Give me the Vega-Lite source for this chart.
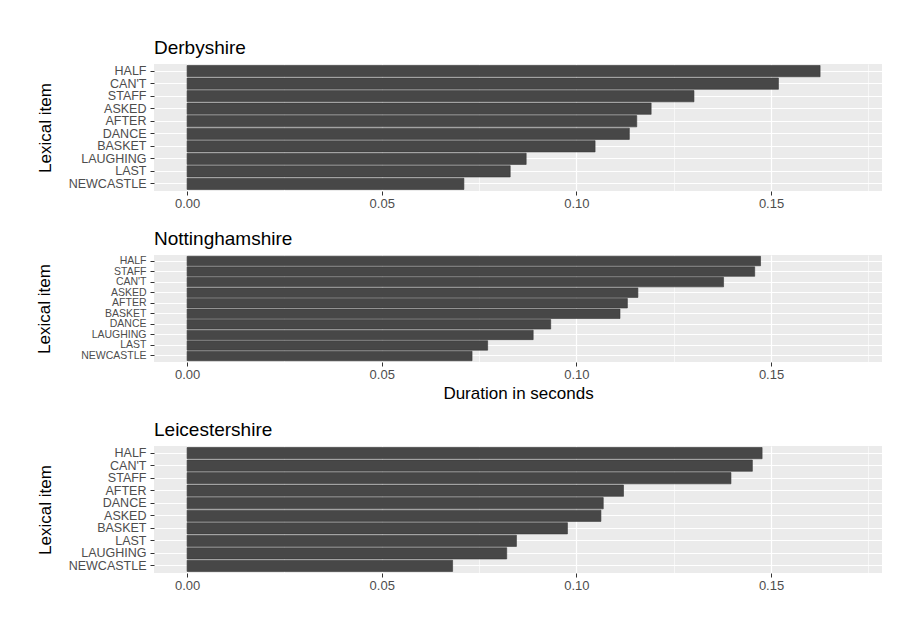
{
  "$schema": "https://vega.github.io/schema/vega-lite/v6.json",
  "background": "white",
  "padding": {"left": 35, "top": 39, "right": 10, "bottom": 10},
  "config": {
    "font": "Liberation Sans",
    "view": {"fill": "#EBEBEB", "stroke": null},
    "title": {"fontSize": 19, "fontWeight": "normal", "color": "#000000", "anchor": "start", "offset": 6, "frame": "group"},
    "axis": {"labelFont": "Liberation Sans", "titleFont": "Liberation Sans", "labelFontSize": 13, "labelColor": "#4D4D4D", "titleFontSize": 17, "titleFontWeight": "normal", "titleColor": "#000000", "tickColor": "#333333", "tickSize": 4, "domain": false, "gridColor": "#FFFFFF"}
  },
  "data": {"values": [
    {"county": "Derbyshire", "item": "HALF", "duration": 0.1626},
    {"county": "Derbyshire", "item": "CAN'T", "duration": 0.1519},
    {"county": "Derbyshire", "item": "STAFF", "duration": 0.1302},
    {"county": "Derbyshire", "item": "ASKED", "duration": 0.1192},
    {"county": "Derbyshire", "item": "AFTER", "duration": 0.1155},
    {"county": "Derbyshire", "item": "DANCE", "duration": 0.1136},
    {"county": "Derbyshire", "item": "BASKET", "duration": 0.1048},
    {"county": "Derbyshire", "item": "LAUGHING", "duration": 0.0871},
    {"county": "Derbyshire", "item": "LAST", "duration": 0.0830},
    {"county": "Derbyshire", "item": "NEWCASTLE", "duration": 0.0711},
    {"county": "Nottinghamshire", "item": "HALF", "duration": 0.1473},
    {"county": "Nottinghamshire", "item": "STAFF", "duration": 0.1458},
    {"county": "Nottinghamshire", "item": "CAN'T", "duration": 0.1378},
    {"county": "Nottinghamshire", "item": "ASKED", "duration": 0.1158},
    {"county": "Nottinghamshire", "item": "AFTER", "duration": 0.1131},
    {"county": "Nottinghamshire", "item": "BASKET", "duration": 0.1112},
    {"county": "Nottinghamshire", "item": "DANCE", "duration": 0.0934},
    {"county": "Nottinghamshire", "item": "LAUGHING", "duration": 0.0889},
    {"county": "Nottinghamshire", "item": "LAST", "duration": 0.0772},
    {"county": "Nottinghamshire", "item": "NEWCASTLE", "duration": 0.0732},
    {"county": "Leicestershire", "item": "HALF", "duration": 0.1477},
    {"county": "Leicestershire", "item": "CAN'T", "duration": 0.1452},
    {"county": "Leicestershire", "item": "STAFF", "duration": 0.1397},
    {"county": "Leicestershire", "item": "AFTER", "duration": 0.1121},
    {"county": "Leicestershire", "item": "DANCE", "duration": 0.1069},
    {"county": "Leicestershire", "item": "ASKED", "duration": 0.1063},
    {"county": "Leicestershire", "item": "BASKET", "duration": 0.0977},
    {"county": "Leicestershire", "item": "LAST", "duration": 0.0846},
    {"county": "Leicestershire", "item": "LAUGHING", "duration": 0.0821},
    {"county": "Leicestershire", "item": "NEWCASTLE", "duration": 0.0682}
  ]},
  "spacing": 20,
  "resolve": {"scale": {"y": "independent"}},
  "vconcat": [
    {
      "title": "Derbyshire",
      "width": 728, "height": 127,
      "transform": [{"filter": "datum.county === 'Derbyshire'"}],
      "layer": [
        {
          "mark": {"type": "bar", "opacity": 0},
          "encoding": {
            "y": {"field": "item", "type": "nominal", "sort": null, "scale": {"paddingInner": 0.1, "paddingOuter": 0.12}, "axis": {"title": "Lexical item", "grid": true, "gridWidth": 1.1, "labelFontSize": 12.5, "labelPadding": 4, "titlePadding": 14}},
            "x": {"field": "duration", "type": "quantitative", "scale": {"domain": [-0.0085, 0.1785], "nice": false, "zero": false}, "axis": {"orient": "bottom", "values": [0.025, 0.075, 0.125, 0.175], "grid": true, "gridWidth": 0.6, "labels": false, "ticks": false, "title": null}}
          }
        },
        {
          "mark": {"type": "bar", "fill": "#474747", "stroke": "#383838", "strokeWidth": 0.6},
          "encoding": {
            "y": {"field": "item", "type": "nominal", "sort": null, "axis": {"title": "Lexical item", "grid": true, "gridWidth": 1.1, "labelFontSize": 12.5, "labelPadding": 4, "titlePadding": 14}},
            "x": {"field": "duration", "type": "quantitative", "axis": {"orient": "bottom", "values": [0, 0.05, 0.1, 0.15], "format": ".2f", "grid": true, "gridWidth": 1.2, "title": null, "labelPadding": 2}}
          }
        }
      ],
      "resolve": {"axis": {"x": "independent"}}
    },
    {
      "title": "Nottinghamshire",
      "width": 728, "height": 107,
      "transform": [{"filter": "datum.county === 'Nottinghamshire'"}],
      "layer": [
        {
          "mark": {"type": "bar", "opacity": 0},
          "encoding": {
            "y": {"field": "item", "type": "nominal", "sort": null, "scale": {"paddingInner": 0.1, "paddingOuter": 0.12}, "axis": {"title": "Lexical item", "grid": true, "gridWidth": 1.1, "labelFontSize": 10.5, "labelPadding": 4, "titlePadding": 27}},
            "x": {"field": "duration", "type": "quantitative", "scale": {"domain": [-0.0085, 0.1785], "nice": false, "zero": false}, "axis": {"orient": "bottom", "values": [0.025, 0.075, 0.125, 0.175], "grid": true, "gridWidth": 0.6, "labels": false, "ticks": false, "title": null}}
          }
        },
        {
          "mark": {"type": "bar", "fill": "#474747", "stroke": "#383838", "strokeWidth": 0.6},
          "encoding": {
            "y": {"field": "item", "type": "nominal", "sort": null, "axis": {"title": "Lexical item", "grid": true, "gridWidth": 1.1, "labelFontSize": 10.5, "labelPadding": 4, "titlePadding": 27}},
            "x": {"field": "duration", "type": "quantitative", "axis": {"orient": "bottom", "values": [0, 0.05, 0.1, 0.15], "format": ".2f", "grid": true, "gridWidth": 1.2, "title": "Duration in seconds", "labelPadding": 2, "titlePadding": 4}}
          }
        }
      ],
      "resolve": {"axis": {"x": "independent"}}
    },
    {
      "title": "Leicestershire",
      "width": 728, "height": 127,
      "transform": [{"filter": "datum.county === 'Leicestershire'"}],
      "layer": [
        {
          "mark": {"type": "bar", "opacity": 0},
          "encoding": {
            "y": {"field": "item", "type": "nominal", "sort": null, "scale": {"paddingInner": 0.1, "paddingOuter": 0.12}, "axis": {"title": "Lexical item", "grid": true, "gridWidth": 1.1, "labelFontSize": 12.5, "labelPadding": 4, "titlePadding": 14}},
            "x": {"field": "duration", "type": "quantitative", "scale": {"domain": [-0.0085, 0.1785], "nice": false, "zero": false}, "axis": {"orient": "bottom", "values": [0.025, 0.075, 0.125, 0.175], "grid": true, "gridWidth": 0.6, "labels": false, "ticks": false, "title": null}}
          }
        },
        {
          "mark": {"type": "bar", "fill": "#474747", "stroke": "#383838", "strokeWidth": 0.6},
          "encoding": {
            "y": {"field": "item", "type": "nominal", "sort": null, "axis": {"title": "Lexical item", "grid": true, "gridWidth": 1.1, "labelFontSize": 12.5, "labelPadding": 4, "titlePadding": 14}},
            "x": {"field": "duration", "type": "quantitative", "axis": {"orient": "bottom", "values": [0, 0.05, 0.1, 0.15], "format": ".2f", "grid": true, "gridWidth": 1.2, "title": null, "labelPadding": 2}}
          }
        }
      ],
      "resolve": {"axis": {"x": "independent"}}
    }
  ]
}
